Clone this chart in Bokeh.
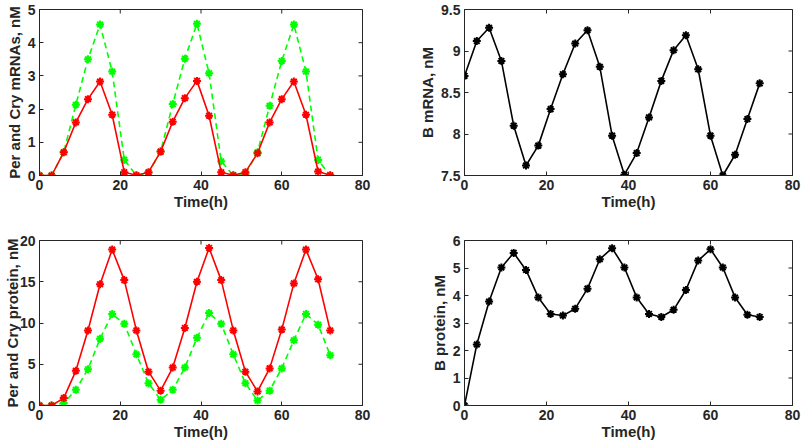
import math

from bokeh.plotting import figure
from bokeh.models import Range1d, FixedTicker
from bokeh.layouts import gridplot
from bokeh.embed import file_html
from bokeh.resources import INLINE

# Sampling times (hours)
time_h = [0, 3, 6, 9, 12, 15, 18, 21, 24, 27, 30, 33, 36, 39, 42, 45, 48, 51,
          54, 57, 60, 63, 66, 69, 72]

# Per and Cry mRNAs (nM)
per_mrna = [0.0, 0.0, 0.70, 1.60, 2.30, 2.83, 1.83, 0.10, 0.01, 0.10, 0.72,
            1.62, 2.33, 2.85, 1.80, 0.10, 0.01, 0.10, 0.67, 1.60, 2.30, 2.83,
            1.83, 0.12, 0.01]
cry_mrna = [0.0, 0.0, 0.70, 2.13, 3.50, 4.55, 3.13, 0.47, 0.0, 0.08, 0.72,
            2.15, 3.52, 4.57, 3.08, 0.43, 0.0, 0.05, 0.70, 2.10, 3.45, 4.55,
            3.13, 0.47, 0.0]

# B mRNA (nM)
b_mrna = [8.70, 9.12, 9.28, 8.88, 8.10, 7.62, 7.86, 8.30, 8.72, 9.09, 9.25,
          8.81, 7.98, 7.51, 7.77, 8.20, 8.64, 9.01, 9.19, 8.78, 7.98, 7.50,
          7.75, 8.18, 8.61]

# Per and Cry proteins (nM)
per_protein = [0.0, 0.0, 0.9, 4.2, 9.1, 14.7, 18.9, 15.2, 9.1, 4.1, 1.8, 4.6,
               9.4, 15.0, 19.1, 15.2, 9.1, 4.1, 1.7, 4.5, 9.2, 14.8, 18.9,
               15.3, 9.1]
cry_protein = [0.0, 0.0, 0.3, 1.9, 4.4, 8.1, 11.1, 9.9, 6.2, 2.7, 0.7, 1.9,
               4.6, 8.2, 11.2, 9.9, 6.2, 2.7, 0.6, 1.8, 4.5, 7.9, 11.1, 9.8,
               6.1]

# B protein (nM)
b_protein = [0.0, 2.22, 3.78, 5.02, 5.55, 4.93, 3.93, 3.33, 3.27, 3.52, 4.25,
             5.32, 5.72, 5.02, 3.93, 3.33, 3.22, 3.48, 4.20, 5.27, 5.68, 5.02,
             3.93, 3.30, 3.22]

# Axis ticks and labels
x_ticks = [0, 20, 40, 60, 80]
x_tick_labels = ["0", "20", "40", "60", "80"]
mrna_ticks = [0, 1, 2, 3, 4, 5]
mrna_tick_labels = ["0", "1", "2", "3", "4", "5"]
b_mrna_ticks = [7.5, 8, 8.5, 9, 9.5]
b_mrna_tick_labels = ["7.5", "8", "8.5", "9", "9.5"]
protein_ticks = [0, 5, 10, 15, 20]
protein_tick_labels = ["0", "5", "10", "15", "20"]
b_protein_ticks = [0, 1, 2, 3, 4, 5, 6]
b_protein_tick_labels = ["0", "1", "2", "3", "4", "5", "6"]

X_RANGE = (0, 80)
FONT = "Liberation Sans"
AX_COLOR = "#262626"


def style_axis(axis, ticks, labels):
    axis.ticker = FixedTicker(ticks=ticks)
    axis.major_label_overrides = {t: l for t, l in zip(ticks, labels)}
    axis.minor_tick_line_color = None
    axis.major_tick_in = 4
    axis.major_tick_out = 0
    axis.axis_line_color = AX_COLOR
    axis.major_tick_line_color = AX_COLOR
    axis.axis_line_width = 1
    axis.major_label_text_font = FONT
    axis.major_label_text_font_style = "bold"
    axis.major_label_text_color = AX_COLOR
    axis.major_label_text_font_size = "14px"
    axis.major_label_standoff = 4
    axis.axis_label_text_font = FONT
    axis.axis_label_text_font_style = "bold"
    axis.axis_label_text_font_size = "15px"
    axis.axis_label_text_color = AX_COLOR


def make_panel(width, height, borders, y_range, y_ticks, y_labels, y_title,
               y_standoff=2):
    left, right, top, bottom = borders
    p = figure(width=width, height=height, output_backend="svg",
               toolbar_location=None, x_range=Range1d(*X_RANGE),
               y_range=Range1d(*y_range),
               min_border_left=left, min_border_right=right,
               min_border_top=top, min_border_bottom=bottom)
    p.grid.visible = False
    p.outline_line_color = AX_COLOR
    p.background_fill_color = "white"
    p.border_fill_color = "white"

    style_axis(p.xaxis[0], x_ticks, x_tick_labels)
    p.xaxis[0].axis_label = "Time(h)"
    p.xaxis[0].axis_label_standoff = 0
    style_axis(p.yaxis[0], y_ticks, y_labels)
    p.yaxis[0].axis_label = y_title
    p.yaxis[0].axis_label_standoff = y_standoff

    # inward ticks on the top and right edges of the box (clipped to frame)
    p.scatter(x_ticks, [y_range[1]] * len(x_ticks), marker="dash", size=8,
              angle=math.pi / 2, line_color=AX_COLOR, line_width=1)
    p.scatter([X_RANGE[1]] * len(y_ticks), y_ticks, marker="dash", size=8,
              line_color=AX_COLOR, line_width=1)
    return p


def add_series(p, y, color, dash="solid"):
    p.line(time_h, y, line_color=color, line_width=1.6, line_dash=dash)
    p.scatter(time_h, y, marker="asterisk", size=8, line_color=color,
              line_width=2)


# Per / Cry mRNAs
p1 = make_panel(403, 225, (33, 41, 9, 50), (0, 5), mrna_ticks,
                mrna_tick_labels, "Per and Cry mRNAs, nM")
add_series(p1, cry_mrna, "#00ff00", "6 4")
add_series(p1, per_mrna, "#ff0000")

# B mRNA
p2 = make_panel(403, 225, (61, 14, 9, 50), (7.5, 9.5), b_mrna_ticks,
                b_mrna_tick_labels, "B mRNA, nM")
add_series(p2, b_mrna, "#000000")

# Per / Cry proteins
p3 = make_panel(403, 223, (33, 41, 15, 43), (0, 20), protein_ticks,
                protein_tick_labels, "Per and Cry protein, nM", y_standoff=-4)
add_series(p3, cry_protein, "#00ff00", "6 4")
add_series(p3, per_protein, "#ff0000")

# B protein
p4 = make_panel(403, 223, (61, 14, 15, 43), (0, 6), b_protein_ticks,
                b_protein_tick_labels, "B protein, nM")
add_series(p4, b_protein, "#000000")

layout = gridplot([[p1, p2], [p3, p4]], toolbar_location=None)

open("out.html", "w").write(file_html(layout, INLINE))
